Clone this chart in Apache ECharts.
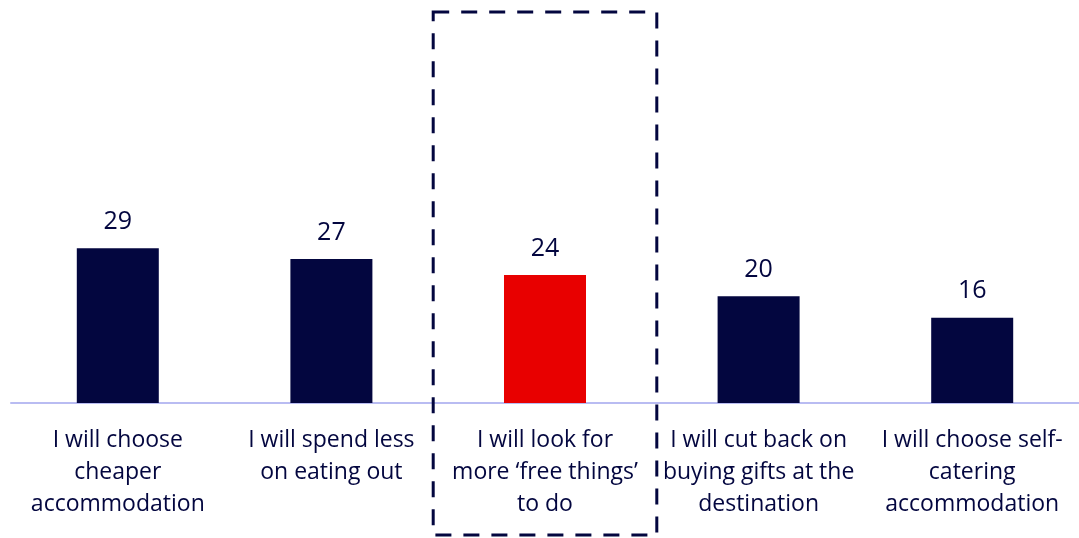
<!DOCTYPE html>
<html>
<head>
<meta charset="utf-8">
<style>
  html, body { margin: 0; padding: 0; background: #ffffff; }
  #chart { width: 1079px; height: 538px; }
</style>
<script src="https://cdn.jsdelivr.net/npm/echarts@6/dist/echarts.min.js"></script>
</head>
<body>
<div id="chart"></div>
<script>
// Holiday spending cut-backs (% of respondents)
const categories = [
  'I will choose\ncheaper\naccommodation',
  'I will spend less\non eating out',
  'I will look for\nmore \u2018free things\u2019\nto do',
  'I will cut back on\nbuying gifts at the\ndestination',
  'I will choose self-\ncatering\naccommodation'
];
const values = [29, 27, 24, 20, 16];
const highlightIndex = 2;

const NAVY = '#03063f';
const RED = '#e80000';
const FONT = '"Open Sans", "Noto Sans", sans-serif';

const chart = echarts.init(document.getElementById('chart'), null, { renderer: 'canvas' });

const option = {
  animation: false,
  grid: { left: 11, right: 0, top: 243, bottom: 135, containLabel: false },
  xAxis: {
    type: 'category',
    data: categories,
    axisLine: { show: true, lineStyle: { color: '#b9bcf2', width: 2 } },
    axisTick: { show: false },
    axisLabel: {
      interval: 0,
      color: NAVY,
      fontFamily: FONT,
      fontSize: 23,
      lineHeight: 32,
      margin: 21
    }
  },
  yAxis: {
    type: 'value',
    min: 0,
    max: 30,
    show: false,
    splitLine: { show: false }
  },
  series: [{
    type: 'bar',
    barWidth: 82,
    data: values.map((v, i) => ({
      value: v,
      itemStyle: { color: i === highlightIndex ? RED : NAVY }
    })),
    label: {
      show: true,
      position: 'top',
      distance: 14,
      color: NAVY,
      fontFamily: FONT,
      fontSize: 25
    }
  }]
};

chart.setOption(option);

// Dashed frame around the highlighted category, sized from the axis band
const cx = chart.convertToPixel({ xAxisIndex: 0 }, highlightIndex);
const nx = chart.convertToPixel({ xAxisIndex: 0 }, highlightIndex + 1);
const half = (nx - cx) / 2 + 5;
chart.setOption({
  graphic: [{
    type: 'rect',
    shape: { x: cx - half, y: 12, width: half * 2, height: 523 },
    style: { fill: 'none', stroke: NAVY, lineWidth: 3, lineDash: [16, 12] },
    z: 10
  }]
});
</script>
</body>
</html>
